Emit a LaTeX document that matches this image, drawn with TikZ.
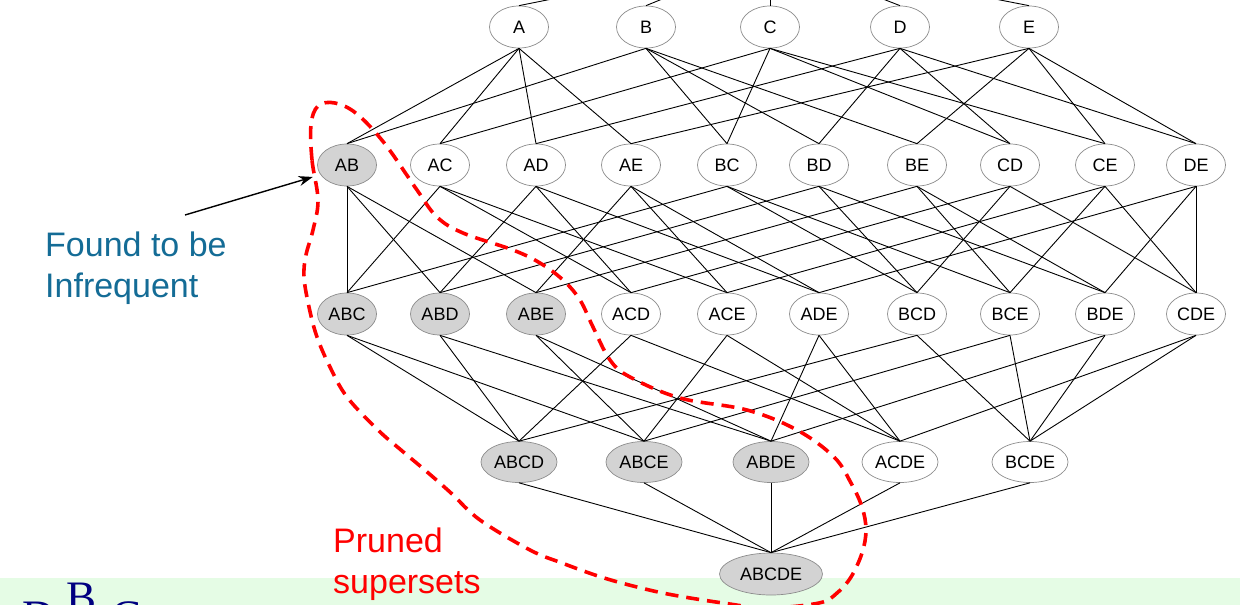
\documentclass[tikz,border=0pt]{standalone}
\usepackage{fontspec}
\setmainfont{Liberation Sans}
\newfontfamily\logofont{Liberation Serif}
\usetikzlibrary{shapes.geometric,arrows.meta}
\definecolor{bandgreen}{RGB}{229,252,229}
\definecolor{nodegray}{RGB}{211,211,211}
\definecolor{bordergray}{RGB}{140,140,140}
\definecolor{infreq}{RGB}{20,108,150}
\definecolor{logoblue}{RGB}{0,0,128}
\begin{document}
\begin{tikzpicture}[x=1pt,y=-1pt,
  item/.style={ellipse, draw=bordergray, line width=0.7pt, fill=white, inner sep=0pt,
    minimum width=59pt, minimum height=42pt, font=\fontsize{18}{20}\selectfont},
  pruned/.style={item, fill=nodegray},
  four/.style={minimum width=76pt, minimum height=41pt},
  five/.style={minimum width=103pt, minimum height=42pt},
  lattice/.style={line width=0.9pt, black},
  bigtext/.style={anchor=base west, inner sep=0pt, font=\fontsize{34}{40}\selectfont},
  logo/.style={anchor=base west, inner sep=0pt, text=logoblue, font=\logofont\fontsize{45}{50}\selectfont}
]
\useasboundingbox (0,0) rectangle (1240,605);
\clip (0,0) rectangle (1240,605);
\fill[bandgreen] (0,578) rectangle (1240,605);

\coordinate (null) at (770,-45);
% level 1
\node[item] (A) at (519,27) {A};
\node[item] (B) at (646,27) {B};
\node[item] (C) at (770,27) {C};
\node[item] (D) at (900,27) {D};
\node[item] (E) at (1029,27) {E};
% level 2
\node[pruned] (AB) at (347,165) {AB};
\node[item] (AC) at (440,165) {AC};
\node[item] (AD) at (536,165) {AD};
\node[item] (AE) at (631,165) {AE};
\node[item] (BC) at (727,165) {BC};
\node[item] (BD) at (819,165) {BD};
\node[item] (BE) at (917,165) {BE};
\node[item] (CD) at (1010,165) {CD};
\node[item] (CE) at (1105,165) {CE};
\node[item] (DE) at (1196,165) {DE};
% level 3
\node[pruned] (ABC) at (347,314) {ABC};
\node[pruned] (ABD) at (440,314) {ABD};
\node[pruned] (ABE) at (536,314) {ABE};
\node[item] (ACD) at (631,314) {ACD};
\node[item] (ACE) at (727,314) {ACE};
\node[item] (ADE) at (819,314) {ADE};
\node[item] (BCD) at (917,314) {BCD};
\node[item] (BCE) at (1010,314) {BCE};
\node[item] (BDE) at (1105,314) {BDE};
\node[item] (CDE) at (1196,314) {CDE};
% level 4
\node[pruned,four] (ABCD) at (519,462) {ABCD};
\node[pruned,four] (ABCE) at (644,462) {ABCE};
\node[pruned,four] (ABDE) at (771,462) {ABDE};
\node[item,four] (ACDE) at (900,462) {ACDE};
\node[item,four] (BCDE) at (1030,462) {BCDE};
% level 5
\node[pruned,five] (ABCDE) at (771,574) {ABCDE};

% edges
\foreach \u in {A,B,C,D,E} \draw[lattice] (null) -- (\u.north);
\foreach \u/\l in {A/AB,B/AB,A/AC,C/AC,A/AD,D/AD,A/AE,E/AE,B/BC,C/BC,B/BD,D/BD,B/BE,E/BE,C/CD,D/CD,C/CE,E/CE,D/DE,E/DE}
  \draw[lattice] (\u.south) -- (\l.north);
\foreach \u/\l in {AB/ABC,AC/ABC,BC/ABC,AB/ABD,AD/ABD,BD/ABD,AB/ABE,AE/ABE,BE/ABE,AC/ACD,AD/ACD,CD/ACD,AC/ACE,AE/ACE,CE/ACE,AD/ADE,AE/ADE,DE/ADE,BC/BCD,BD/BCD,CD/BCD,BC/BCE,BE/BCE,CE/BCE,BD/BDE,BE/BDE,DE/BDE,CD/CDE,CE/CDE,DE/CDE}
  \draw[lattice] (\u.south) -- (\l.north);
\foreach \u/\l in {ABC/ABCD,ABD/ABCD,ACD/ABCD,BCD/ABCD,ABC/ABCE,ABE/ABCE,ACE/ABCE,BCE/ABCE,ABD/ABDE,ABE/ABDE,ADE/ABDE,BDE/ABDE,ACD/ACDE,ACE/ACDE,ADE/ACDE,CDE/ACDE,BCD/BCDE,BCE/BCDE,BDE/BCDE,CDE/BCDE}
  \draw[lattice] (\u.south) -- (\l.north);
\foreach \u in {ABCD,ABCE,ABDE,ACDE,BCDE}
  \draw[lattice] (\u.south) -- (ABCDE.north);

% pruned region
\draw[red, line width=3.6pt, dash pattern=on 13pt off 8pt]
  plot[smooth cycle, tension=0.6] coordinates {
  (318,200) (312,160) (311,125) (318,106) (335,103) (357,114) (385,144) (417,190)
  (437,217) (463,233) (513,250) (540,263) (563,280) (580,300) (593,327) (610,360)
  (630,377) (680,398) (747,410) (797,430) (834,457) (851,483) (862,507) (866,530)
  (862,553) (851,577) (837,593) (819,603) (767,608) (723,603) (673,595) (637,587)
  (601,577) (562,563) (530,550) (480,520) (451,493) (426,471) (401,450) (378,430)
  (347,397) (330,367) (317,337) (309,307) (304,277) (306,255) (313,230)};

% annotation
\coordinate (arrtail) at (185,215);
\draw[line width=1.4pt, -{Stealth[length=14pt,width=10pt]}, shorten >=8pt] (arrtail) -- (AB.200);
\node[bigtext, text=infreq] (found1) at (45,256) {Found to be};
\node[bigtext, text=infreq] (found2) at (45,297) {Infrequent};
\node[bigtext, text=red] (pr1) at (333,552) {Pruned};
\node[bigtext, text=red] (pr2) at (333,593) {supersets};

% logo (cut by the lower edge, as in the original)
\node[logo] (logoD) at (22,631) {D};
\node[logo] (logoB) at (66,612) {B};
\node[logo] (logoC) at (111,631) {C};
\end{tikzpicture}
\end{document}
